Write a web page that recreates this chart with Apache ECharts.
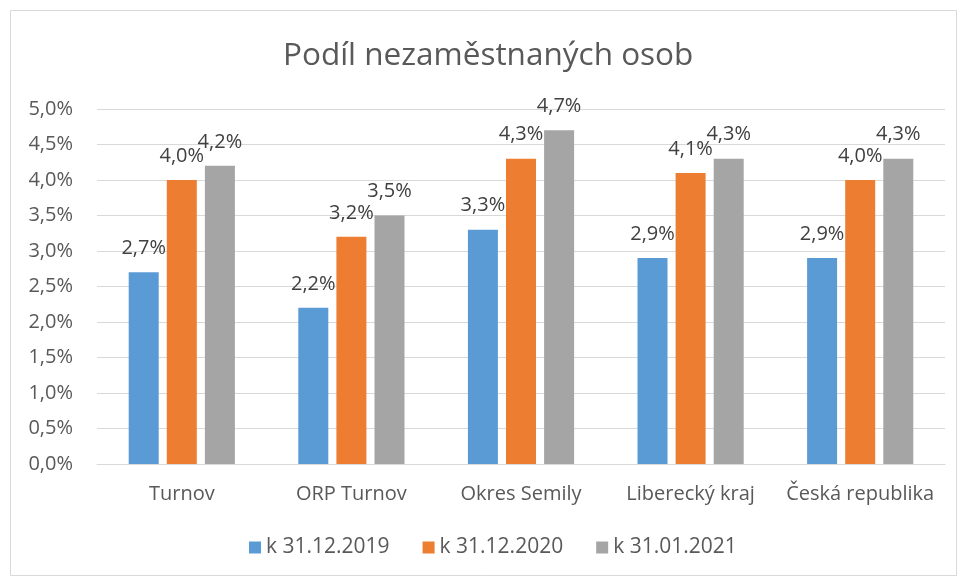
<!DOCTYPE html>
<html><head><meta charset="utf-8">
<script src="https://cdn.jsdelivr.net/npm/echarts@6/dist/echarts.min.js"></script>
<style>html,body{margin:0;padding:0;background:#fff}#c{width:958px;height:578px}</style>
</head><body><div id="c"></div>
<script>
const categories = ['Turnov', 'ORP Turnov', 'Okres Semily', 'Liberecký kraj', 'Česká republika'];
const seriesNames = ['k 31.12.2019', 'k 31.12.2020', 'k 31.01.2021'];
const s2019 = [2.7, 2.2, 3.3, 2.9, 2.9];
const s2020 = [4.0, 3.2, 4.3, 4.1, 4.0];
const s2021 = [4.2, 3.5, 4.7, 4.3, 4.3];
const colors = ['#5B9BD5', '#ED7D31', '#A5A5A5'];
const FONT = '"Open Sans", sans-serif';
const fmt = v => v.toFixed(1).replace('.', ',') + '%';

const chart = echarts.init(document.getElementById('c'), null, {renderer: 'canvas'});
const mk = (name, data, i) => ({
  name, type: 'bar', data,
  itemStyle: {color: colors[i]},
  barWidth: 30, barGap: '27%',
  label: {show: true, position: 'top', distance: 14, formatter: p => fmt(p.value),
    color: '#404040', fontSize: 20, fontFamily: FONT}
});
chart.setOption({
  animation: false,
  backgroundColor: '#fff',
  graphic: [{type: 'rect', shape: {x: 10.5, y: 10.5, width: 946, height: 565},
    style: {fill: 'none', stroke: '#d9d9d9', lineWidth: 1}, silent: true}],
  title: {text: 'Podíl nezaměstnaných osob', left: 278, top: 35,
    textStyle: {color: '#595959', fontSize: 31.5, fontWeight: 'normal', fontFamily: FONT}},
  legend: {bottom: 15, left: 244, itemWidth: 12, itemHeight: 12, itemGap: 33,
    icon: 'rect', textStyle: {color: '#595959', fontSize: 21, fontFamily: FONT}},
  grid: {left: 97, right: 13, top: 109, bottom: 114, containLabel: false},
  xAxis: {type: 'category', data: categories,
    axisLine: {lineStyle: {color: '#d9d9d9', width: 1}}, axisTick: {show: false},
    axisLabel: {color: '#595959', fontSize: 20, fontFamily: FONT, margin: 20, interval: 0}},
  yAxis: {type: 'value', min: 0, max: 5, interval: 0.5,
    axisLine: {show: false}, axisTick: {show: false},
    splitLine: {lineStyle: {color: '#d9d9d9', width: 1}},
    axisLabel: {color: '#595959', fontSize: 20, fontFamily: FONT, margin: 24, formatter: v => fmt(v)}},
  series: [mk(seriesNames[0], s2019, 0), mk(seriesNames[1], s2020, 1), mk(seriesNames[2], s2021, 2)]
});
</script></body></html>
